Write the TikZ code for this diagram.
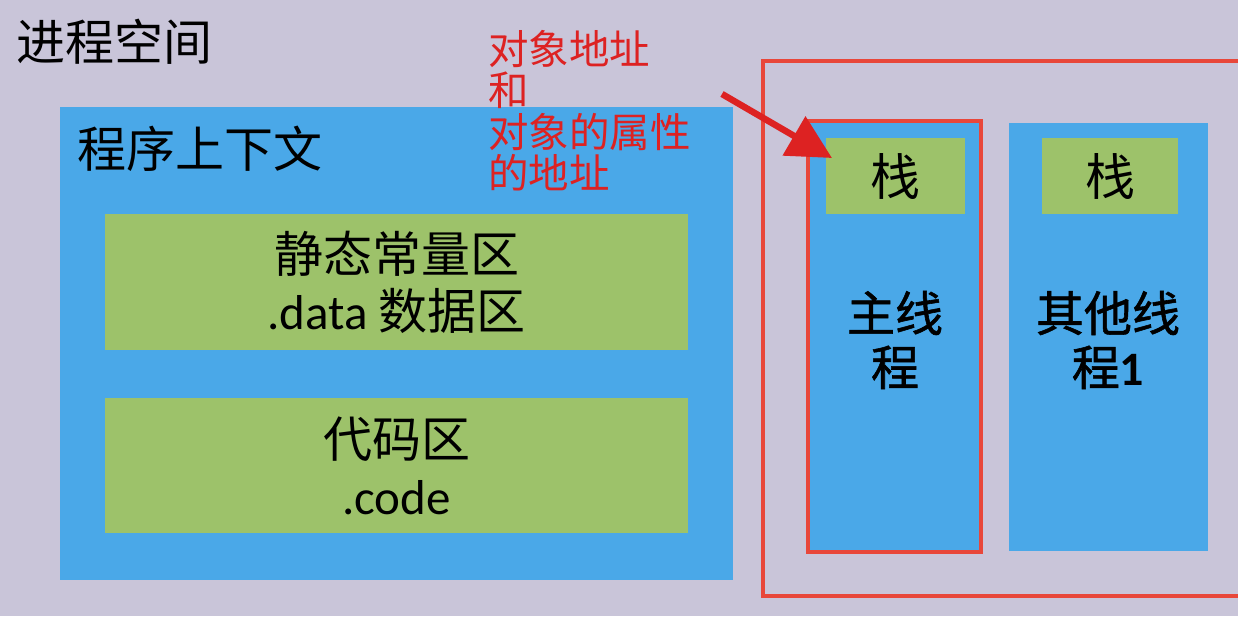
\documentclass[tikz,border=0pt]{standalone}
\usepackage{fontspec}
\newfontfamily\cjk{Noto Sans CJK SC}
\newfontfamily\cjkbold{Noto Sans CJK SC}[FakeBold=1.2]
\newfontfamily\lat{Carlito}
\usetikzlibrary{arrows.meta,calc}
\definecolor{bg}{HTML}{C9C5D9}
\definecolor{blk}{HTML}{4AA8E8}
\definecolor{grn}{HTML}{9DC26A}
\definecolor{redline}{HTML}{E8473A}
\definecolor{redtxt}{HTML}{DD2222}
\tikzset{
  box/.style={anchor=north west, inner sep=0, outer sep=0},
  bluebox/.style={box, fill=blk},
  greenbox/.style={box, fill=grn},
  bigtext/.style={font=\cjk\fontsize{49}{57}\selectfont, text=black, align=center},
  threadtext/.style={font=\cjkbold\fontsize{48}{54}\selectfont, text=black, align=center},
  stacktext/.style={font=\cjk\fontsize{50}{54}\selectfont, text=black},
  redframe/.style={draw=redline, line width=4.5pt},
}
\begin{document}
\begin{tikzpicture}[x=1pt,y=-1pt]
\fill[bg] (0,0) rectangle (1238,616);
\useasboundingbox (0,0) rectangle (1238,616);
\begin{scope}
\clip (0,0) rectangle (1238,616);

% title
\node[anchor=west, font=\cjk\fontsize{49}{52}\selectfont, inner sep=0] (title) at (16,42) {进程空间};

% program context
\node[bluebox, minimum width=673, minimum height=473] (ctx) at (60,107) {};
\node[anchor=west, inner sep=0, font=\cjk\fontsize{49}{52}\selectfont] (ctxlabel) at (77,149) {程序上下文};
\node[greenbox, minimum width=583, minimum height=136] (data) at (105,214) {};
\node[bigtext] (datatext) at (data.center) {静态常量区\\{\lat .data} 数据区};
\node[greenbox, minimum width=583, minimum height=135] (code) at (105,398) {};
\node[bigtext] (codetext) at (code.center) {代码区\\{\lat .code}};

% threads region
\draw[redframe] (763,61) rectangle (1260,596);
\node[bluebox, minimum width=173, minimum height=431] (main) at (808,121) {};
\draw[redframe] (main.north west) rectangle (main.south east);
\node[greenbox, minimum width=139, minimum height=76] (mstack) at (826,138) {};
\node[stacktext] (mstacktext) at (mstack.center) {栈};
\node[threadtext] (mainlabel) at (895,340) {主线\\程};

\node[bluebox, minimum width=199, minimum height=428] (other) at (1009,123) {};
\node[greenbox, minimum width=136, minimum height=76] (ostack) at (1042,138) {};
\node[stacktext] (ostacktext) at (ostack.center) {栈};
\node[threadtext] (otherlabel) at (1108,340) {其他线\\程{\lat\bfseries 1}};

% annotation
\node[anchor=north west, inner sep=0, align=left, text=redtxt,
      font=\cjk\fontsize{40.5}{41.5}\selectfont] (note) at (488,30) {对象地址\\和\\对象的属性\\的地址};
\coordinate (arrowstart) at (722,94);
\draw[redtxt, line width=6.5pt, -{Triangle[length=44pt,width=44pt]}]
  (arrowstart) -- ($(mstack.north west)+(6,20)$);
\end{scope}
\end{tikzpicture}
\end{document}
